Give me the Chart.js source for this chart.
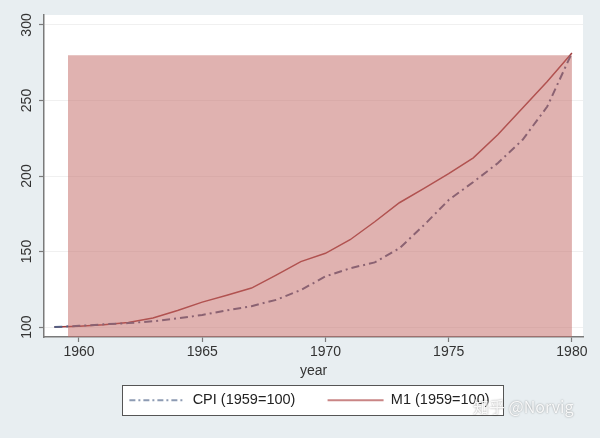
<!DOCTYPE html>
<html>
<head>
<meta charset="utf-8">
<script src="https://cdn.jsdelivr.net/npm/chart.js@4.4.1/dist/chart.umd.min.js"></script>
<style>
  html, body { margin: 0; padding: 0; background: #e8eef1; }
  #wrap { width: 600px; height: 438px; position: relative; }
</style>
</head>
<body>
<div id="wrap"><canvas id="moneyChart"></canvas></div>
<script>
// --- data ---
const years = [1959, 1960, 1961, 1962, 1963, 1964, 1965, 1966, 1967, 1968, 1969,
               1970, 1971, 1972, 1973, 1974, 1975, 1976, 1977, 1978, 1979, 1980];
const cpi = [100, 100.8, 101.8, 102.6, 103.8, 105.7, 108, 111, 113.8, 118, 124.5,
             133.5, 138.9, 142.8, 152.1, 167.5, 184.1, 196, 208.6, 224, 246, 281.5];
const m1 = [100, 100.6, 101.5, 103, 106, 111, 116.5, 121, 125.8, 134.4, 143.3,
            148.8, 157.8, 169.7, 182.3, 191.8, 201.5, 212, 227.5, 245, 262.5, 281.5];
const shadeYears = [1959.55, 1980];
const shadeTop = 280;
const xTicks = [1960, 1965, 1970, 1975, 1980];
const yTicks = [100, 150, 200, 250, 300];
const seriesNames = ["CPI (1959=100)", "M1 (1959=100)"];

const FONT = '"Liberation Sans", Arial, Helvetica, sans-serif';
Chart.defaults.font.family = FONT;
Chart.defaults.color = "#333333";

const LEGEND_SIZE = 14.5;
const LEGEND_LINE = 56;
const NBSP = "\u00a0";

const toPoints = (xs, ys) => xs.map((x, i) => ({ x: x, y: ys[i] }));

// 背景・プロット領域・凡例枠
const backdropPlugin = {
    id: "backdrop",
    beforeDraw(chart) {
        const { ctx, chartArea: a, width, height } = chart;
        ctx.save();
        ctx.fillStyle = "#e8eef1";
        ctx.fillRect(0, 0, width, height);
        ctx.fillStyle = "#ffffff";
        ctx.fillRect(a.left, a.top, a.right - a.left, a.bottom - a.top);

        const legend = chart.legend;
        const boxes = legend && legend.legendHitBoxes;
        if (boxes && boxes.length) {
            const last = boxes[boxes.length - 1];
            const lastText = legend.legendItems[boxes.length - 1].text.trim();
            ctx.font = LEGEND_SIZE + "px " + FONT;
            const textEnd = last.left + LEGEND_LINE + LEGEND_SIZE / 2 + ctx.measureText(lastText).width;
            const left = boxes[0].left - 7;
            const right = textEnd + 14;
            const mid = boxes[0].top + boxes[0].height / 2;
            ctx.fillStyle = "#ffffff";
            ctx.fillRect(left, mid - 15, right - left, 30);
            ctx.strokeStyle = "#555555";
            ctx.lineWidth = 1;
            ctx.strokeRect(Math.round(left) + 0.5, Math.round(mid - 15) + 0.5, Math.round(right - left), 30);
        }
        ctx.restore();
    },
    afterDraw(chart) {
        const { ctx } = chart;
        ctx.save();
        ctx.font = '16px "Noto Sans CJK SC", sans-serif';
        ctx.textBaseline = "middle";
        ctx.shadowColor = "rgba(0,0,0,0.45)";
        ctx.shadowBlur = 2;
        ctx.fillStyle = "rgba(255,255,255,0.9)";
        ctx.fillText("知乎 @Norvig", 473, 407);
        ctx.restore();
    }
};

const legendColors = ["#8d9bb3", "#c98585"];
const legendDash = [[6, 3, 2, 3], []];

new Chart(document.getElementById("moneyChart"), {
    type: "line",
    data: {
        datasets: [
            {
                label: "shade",
                data: toPoints(shadeYears, [shadeTop, shadeTop]),
                fill: "start",
                backgroundColor: "rgba(193,101,97,0.5)",
                borderWidth: 0,
                pointRadius: 0,
                order: 0
            },
            {
                label: seriesNames[0],
                data: toPoints(years, cpi),
                borderColor: "rgb(85,95,130)",
                borderWidth: 2,
                borderDash: [8, 4, 2, 4],
                pointRadius: 0,
                tension: 0,
                fill: false,
                order: 1
            },
            {
                label: seriesNames[1],
                data: toPoints(years, m1),
                borderColor: "rgb(160,62,62)",
                borderWidth: 1.5,
                pointRadius: 0,
                tension: 0,
                fill: false,
                order: 1
            }
        ]
    },
    options: {
        responsive: true,
        maintainAspectRatio: false,
        animation: false,
        layout: { padding: { left: 0, right: 17, top: 15, bottom: 20.5 } },
        plugins: {
            tooltip: { enabled: false },
            legend: {
                position: "bottom",
                fullSize: false,
                labels: {
                    usePointStyle: true,
                    pointStyle: "line",
                    pointStyleWidth: LEGEND_LINE,
                    padding: 8,
                    color: "#222222",
                    font: { size: LEGEND_SIZE },
                    filter: item => item.datasetIndex !== 0,
                    generateLabels(chart) {
                        const items = Chart.defaults.plugins.legend.labels.generateLabels(chart);
                        items.forEach(it => {
                            const k = it.datasetIndex - 1;
                            if (k < 0) return;
                            it.strokeStyle = legendColors[k];
                            it.lineWidth = 2;
                            it.lineDash = legendDash[k];
                            // 項目間の余白と凡例の位置合わせ
                            it.text = it.text + NBSP.repeat(k === 0 ? 6 : 2);
                        });
                        return items;
                    }
                }
            }
        },
        scales: {
            x: {
                type: "linear",
                min: 1958.58,
                max: 1980.45,
                afterBuildTicks: s => { s.ticks = xTicks.map(v => ({ value: v })); },
                afterFit: s => { s.height = 48; },
                ticks: {
                    callback: v => String(v),
                    font: { size: 14 },
                    color: "#333333",
                    padding: 2,
                    maxRotation: 0
                },
                grid: {
                    drawOnChartArea: false,
                    drawTicks: true,
                    tickLength: 5,
                    tickColor: "#7a7a7a",
                    tickWidth: 1.2
                },
                border: { color: "#7a7a7a", width: 1.5 },
                title: {
                    display: true,
                    text: "year",
                    font: { size: 14 },
                    color: "#333333",
                    padding: { top: 0, bottom: 5 }
                }
            },
            y: {
                type: "linear",
                min: 93.4,
                max: 306.6,
                afterBuildTicks: s => { s.ticks = yTicks.map(v => ({ value: v })); },
                afterFit: s => { s.width = 44; },
                ticks: {
                    font: { size: 14 },
                    color: "#333333",
                    minRotation: 90,
                    maxRotation: 90,
                    crossAlign: "center",
                    padding: 0
                },
                grid: {
                    color: "rgba(0,0,0,0.06)",
                    tickLength: 5,
                    tickColor: "#7a7a7a",
                    tickWidth: 1.2
                },
                border: { color: "#7a7a7a", width: 1.5 }
            }
        }
    },
    plugins: [backdropPlugin]
});
</script>
</body>
</html>
